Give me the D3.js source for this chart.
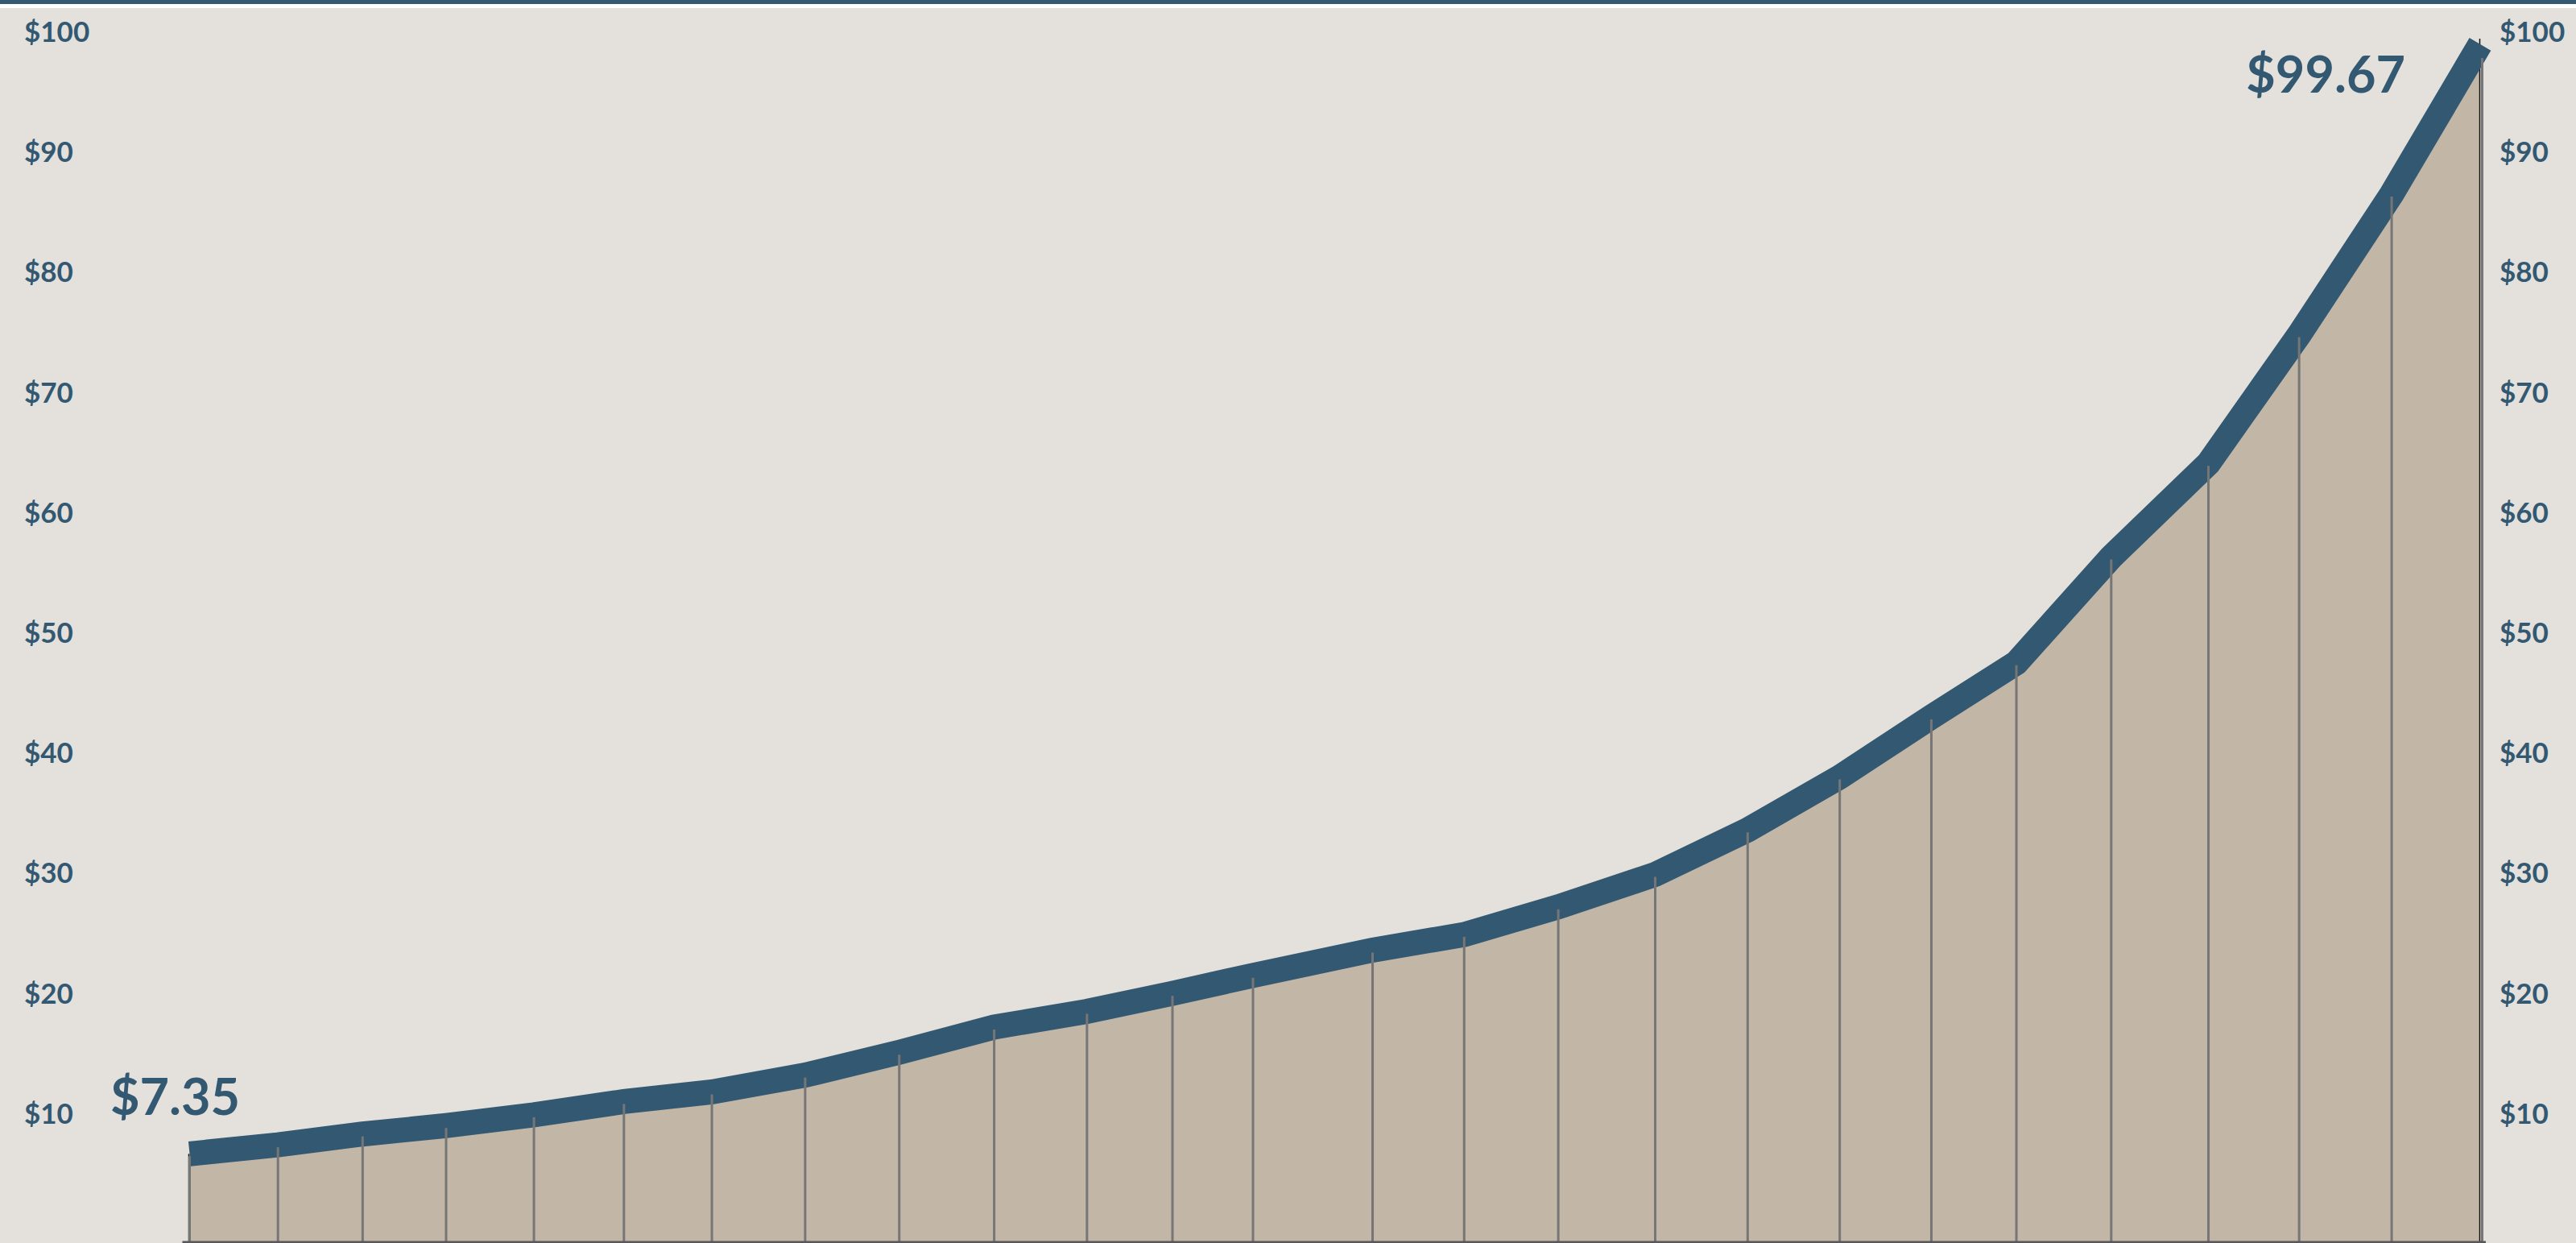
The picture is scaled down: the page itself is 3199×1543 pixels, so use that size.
<html>
<head>
<script src="https://d3js.org/d3.v7.min.js"></script>
<style>
  body { margin: 0; background: #e4e1dc; }
  svg { display: block; }
  .tick-label { font-family: Lato, sans-serif; font-weight: 700; font-size: 35px; fill: #335872; }
  .callout { font-family: Lato, sans-serif; font-weight: 700; font-size: 63px; fill: #335872; }
</style>
</head>
<body>
<svg id="chart" width="3199" height="1543"></svg>
<script>
// years elapsed since the first observation (points are not evenly spaced)
const elapsed = [0, 0.964, 1.888, 2.799, 3.758, 4.740, 5.700, 6.718, 7.745, 8.781,
                 9.794, 10.727, 11.606, 12.911, 13.911, 14.938, 15.996, 17.005, 18.010,
                 19.010, 19.938, 20.973, 22.034, 23.024, 24.034, 25.0];
const price = [7.35, 8.1, 9.0, 9.7, 10.6, 11.7, 12.5, 13.9, 15.8, 17.9,
               19.2, 20.7, 22.2, 24.3, 25.6, 27.9, 30.6, 34.3, 38.7,
               43.7, 48.2, 57.0, 64.8, 75.5, 87.2, 99.67];
const yTicks = [10, 20, 30, 40, 50, 60, 70, 80, 90, 100];
const callouts = ["$7.35", "$99.67"];

const svg = d3.select("svg#chart");
const width = +svg.attr("width");
const height = +svg.attr("height");
const blue = "#335872";

const data = elapsed.map((t, i) => ({t: t, v: price[i]}));

const xScale = d3.scaleLinear().domain([0, 25]).range([235.5, 3080]);
const yScale = d3.scaleLinear().domain([0, 100]).range([1542, 50]);

// page frame: dark rule, thin white gap, then the grey paper
svg.append("rect").attr("x", 0).attr("y", 0).attr("width", width).attr("height", height).attr("fill", "#e4e1dc");
svg.append("rect").attr("x", 0).attr("y", 0).attr("width", width).attr("height", 10).attr("fill", "#ffffff");
svg.append("rect").attr("x", 0).attr("y", 0).attr("width", width).attr("height", 5).attr("fill", blue);

const area = d3.area()
  .x(d => xScale(d.t))
  .y0(yScale(0))
  .y1(d => yScale(d.v));

svg.append("path")
  .attr("d", area(data))
  .attr("fill", "#c2b6a6");

// black edges of the filled region
svg.append("line")
  .attr("x1", xScale(0) - 1).attr("x2", xScale(0) - 1)
  .attr("y1", yScale(price[0])).attr("y2", yScale(0))
  .attr("stroke", "#111").attr("stroke-width", 1.5);
svg.append("line")
  .attr("x1", xScale(25) - 0.5).attr("x2", xScale(25) - 0.5)
  .attr("y1", yScale(100) - 2).attr("y2", yScale(0))
  .attr("stroke", "#111").attr("stroke-width", 1.5);

const line = d3.line()
  .x(d => xScale(d.t))
  .y(d => yScale(d.v));

svg.append("path")
  .attr("d", line(data))
  .attr("fill", "none")
  .attr("stroke", blue)
  .attr("stroke-width", 31)
  .attr("stroke-linejoin", "miter")
  .attr("stroke-linecap", "butt");

// vertical rules at each observation
svg.append("g").selectAll("line")
  .data(data)
  .enter()
  .append("line")
  .attr("x1", (d, i) => xScale(d.t) + (i == data.length - 1 ? 2.5 : 0))
  .attr("x2", (d, i) => xScale(d.t) + (i == data.length - 1 ? 2.5 : 0))
  .attr("y1", (d, i) => i == data.length - 1 ? yScale(d.v) + 17 : yScale(d.v) + 3)
  .attr("y2", yScale(0))
  .attr("stroke", "#767676")
  .attr("stroke-width", 3);

// baseline
svg.append("line")
  .attr("x1", xScale(0) - 9).attr("x2", xScale(25) + 7)
  .attr("y1", yScale(0)).attr("y2", yScale(0))
  .attr("stroke", "#58585a").attr("stroke-width", 3);

// price labels, both sides
svg.append("g").selectAll("text")
  .data(yTicks)
  .enter()
  .append("text")
  .attr("class", "tick-label")
  .attr("x", 30)
  .attr("y", d => yScale(d) + 2)
  .text(d => "$" + d);

svg.append("g").selectAll("text")
  .data(yTicks)
  .enter()
  .append("text")
  .attr("class", "tick-label")
  .attr("x", 3104)
  .attr("y", d => yScale(d) + 2)
  .text(d => "$" + d);

svg.append("text")
  .attr("class", "callout")
  .attr("x", 137)
  .attr("y", 1384)
  .text(callouts[0]);

svg.append("text")
  .attr("class", "callout")
  .attr("x", 2987)
  .attr("y", 115)
  .attr("text-anchor", "end")
  .text(callouts[1]);
</script>
</body>
</html>
